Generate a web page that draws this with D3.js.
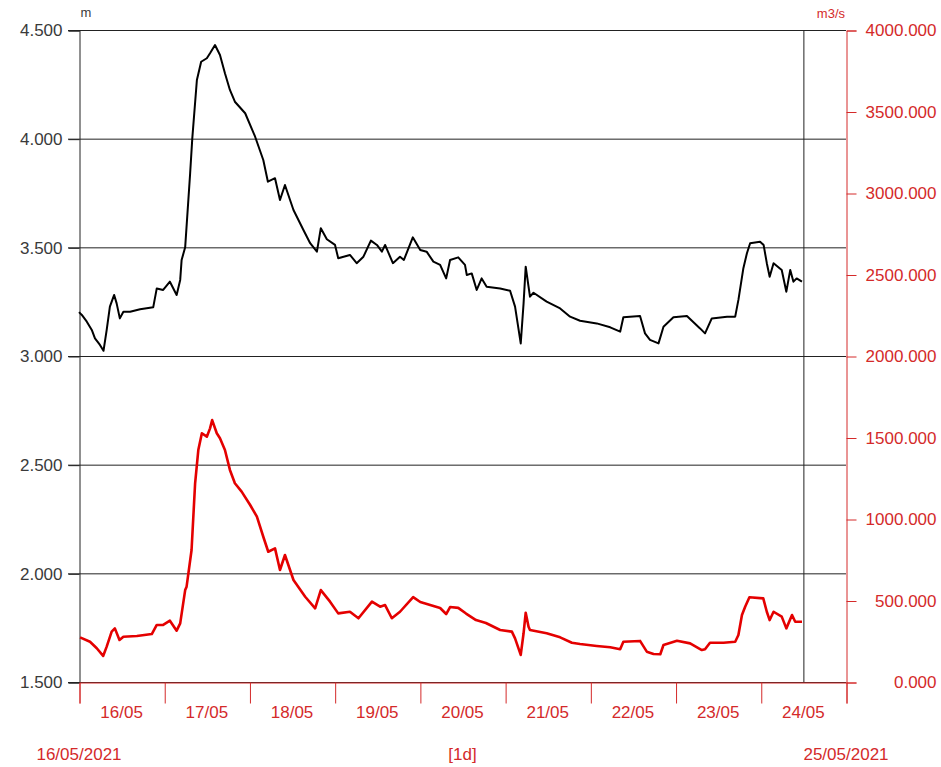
<!DOCTYPE html>
<html>
<head>
<meta charset="utf-8">
<script src="https://cdn.jsdelivr.net/npm/d3@7"></script>
<style>
  body { margin: 0; background: #fff; }
  text { font-family: "Liberation Sans", Arial, sans-serif; }
</style>
</head>
<body>
<script>
// water level (m) - hours after 16/05/2021 00:00
var levelHours = [0,0.8,2.2,3.6,4.5,5.9,6.9,7.8,8.7,9.9,10.6,11.5,12.5,14.4,17.2,20.9,21.9,23.7,25.6,27.5,
  28.5,28.9,29.9,31.3,31.9,33.2,34.4,36.0,36.9,38.3,39.7,41.1,42.5,43.9,46.8,49.6,51.9,53.2,55.2,56.6,
  58.0,60.4,63.2,65.1,67.0,68.1,69.8,72.1,73.0,76.3,78.2,80.1,82.2,83.9,85.3,86.2,88.4,90.4,91.5,94.0,
  96.1,97.9,99.8,101.7,103.4,104.5,106.8,108.7,109.2,110.6,112.0,113.4,114.8,118.6,121.4,122.8,124.4,125.2,125.8,126.6,
  127.0,128.0,131.7,135.5,138.3,141.1,145.8,149.6,152.4,153.3,158.0,159.4,160.8,163.2,164.6,167.4,171.2,174.9,176.3,178.2,
  182.5,184.8,185.7,187.1,188.1,189.0,191.8,192.8,193.7,194.5,195.6,197.9,199.2,200.3,201.2,202.1,203.6];
var levels = [3.202,3.189,3.158,3.120,3.081,3.051,3.024,3.120,3.227,3.281,3.242,3.173,3.204,3.204,3.215,3.224,3.311,3.304,3.342,3.281,
  3.350,3.442,3.500,3.841,4.000,4.270,4.354,4.370,4.393,4.431,4.385,4.301,4.224,4.170,4.117,4.009,3.902,3.802,3.818,3.718,
  3.787,3.672,3.580,3.519,3.480,3.588,3.537,3.511,3.450,3.465,3.427,3.457,3.531,3.511,3.480,3.511,3.427,3.457,3.442,3.546,
  3.488,3.480,3.434,3.419,3.357,3.442,3.454,3.419,3.373,3.380,3.304,3.357,3.319,3.311,3.300,3.227,3.058,3.242,3.411,3.319,
  3.273,3.291,3.250,3.219,3.181,3.162,3.150,3.132,3.112,3.178,3.184,3.104,3.074,3.058,3.135,3.178,3.184,3.127,3.104,3.173,
  3.181,3.181,3.258,3.404,3.473,3.519,3.526,3.511,3.427,3.365,3.427,3.396,3.296,3.396,3.342,3.357,3.342];

// discharge (m3/s)
var flowHours = [0.3,3.1,5.0,6.8,7.8,9.2,10.1,11.4,12.5,16.3,20.5,21.9,23.7,25.6,27.5,28.5,29.9,30.3,31.7,32.7,
  33.6,34.6,36.0,36.9,37.5,38.8,39.7,41.1,42.5,43.9,45.8,48.2,50.1,51.9,53.3,55.2,56.6,58.0,60.4,63.7,
  66.5,68.1,70.7,73.0,76.3,78.7,82.5,84.8,86.2,88.1,90.4,94.1,96.1,101.7,103.4,104.5,106.8,109.0,111.8,114.6,
  118.6,121.9,122.8,124.4,125.2,125.8,126.6,127.0,131.7,135.5,138.8,141.1,145.8,149.6,152.4,153.3,158.0,159.9,161.8,163.7,
  164.6,168.4,172.1,175.4,176.3,177.7,181.5,184.8,185.7,186.7,187.6,188.8,192.7,193.7,194.5,195.6,197.9,199.2,200.8,201.7,203.6];
var flows = [274,247,207,160,217,309,329,258,278,282,294,350,350,376,315,360,564,585,810,1219,
  1423,1526,1505,1556,1607,1526,1495,1423,1301,1219,1168,1086,1014,891,799,820,687,779,626,523,
  452,564,493,421,431,391,493,462,472,391,431,521,491,454,417,460,455,420,380,362,
  319,309,268,166,299,425,339,319,299,274,241,233,221,213,201,247,252,186,172,170,
  227,253,237,196,201,241,241,247,288,411,462,520,513,431,380,431,401,329,411,370,370];

var leftTicks = [1.5, 2.0, 2.5, 3.0, 3.5, 4.0, 4.5];
var rightTicks = [0, 500, 1000, 1500, 2000, 2500, 3000, 3500, 4000];
var dayLabels = ["16/05","17/05","18/05","19/05","20/05","21/05","22/05","23/05","24/05"];
var dataEndHour = 204;

var RED = "#d42a2a";
var start = new Date(2021, 4, 16);
var end = new Date(2021, 4, 25);
function toDate(h) { return d3.timeMinute.offset(start, Math.round(h * 60)); }

var svg = d3.select("body").append("svg")
    .attr("width", 941)
    .attr("height", 767);

var x = d3.scaleTime().domain([start, end]).range([79, 846]);
var yL = d3.scaleLinear().domain([1.5, 4.5]).range([682, 30]);
var yR = d3.scaleLinear().domain([0, 4000]).range([682, 30]);

//horizontal grid lines
svg.append("g").selectAll("line")
    .data(leftTicks)
    .enter().append("line")
    .attr("x1", 68).attr("x2", 846)
    .attr("y1", function (d) { return yL(d) + 0.5; })
    .attr("y2", function (d) { return yL(d) + 0.5; })
    .style("stroke", "#222").style("stroke-width", 1);

//left axis
var leftAxis = svg.append("g")
    .attr("transform", "translate(79.5,0.5)")
    .call(d3.axisLeft(yL).tickValues(leftTicks).tickSize(11).tickPadding(6).tickFormat(d3.format(".3f")));
leftAxis.select(".domain").attr("stroke", "#222");
leftAxis.selectAll(".tick line").attr("stroke", "#222");
leftAxis.selectAll("text").attr("fill", "#3a3a3a").style("font-size", "17px").attr("font-family", null);

//right axis
var rightAxis = svg.append("g")
    .attr("transform", "translate(846.5,0.5)")
    .call(d3.axisRight(yR).tickValues(rightTicks).tickSize(10).tickFormat(d3.format(".3f")));
rightAxis.select(".domain").attr("stroke", RED);
rightAxis.selectAll(".tick line").attr("stroke", RED);
rightAxis.selectAll("text").attr("fill", RED).style("font-size", "17px").attr("font-family", null)
    .attr("text-anchor", "end").attr("x", 90);

//bottom axis with day ticks
var bottomAxis = svg.append("g")
    .attr("transform", "translate(0.5,682.5)")
    .call(d3.axisBottom(x).ticks(d3.timeDay.every(1)).tickSize(21).tickFormat(""));
bottomAxis.select(".domain").attr("stroke", RED);
bottomAxis.selectAll(".tick line").attr("stroke", RED);

svg.append("g").selectAll("text")
    .data(dayLabels)
    .enter().append("text")
    .attr("x", function (d, i) { return x(d3.timeHour.offset(start, i * 24 + 12)); })
    .attr("y", 718)
    .attr("text-anchor", "middle")
    .style("font-size", "17px")
    .style("fill", RED)
    .text(function (d) { return d; });

//end-of-data marker
svg.append("line")
    .attr("x1", x(toDate(dataEndHour)) + 0.5).attr("x2", x(toDate(dataEndHour)) + 0.5)
    .attr("y1", 30).attr("y2", 682)
    .style("stroke", "#222").style("stroke-width", 1);

//series
var levelLine = d3.line()
    .x(function (d, i) { return x(toDate(levelHours[i])); })
    .y(function (d) { return yL(d); });
var flowLine = d3.line()
    .x(function (d, i) { return x(toDate(flowHours[i])); })
    .y(function (d) { return yR(d); });

svg.append("path")
    .attr("d", flowLine(flows))
    .style("fill", "none").style("stroke", "#e40000").style("stroke-width", 2.6)
    .style("stroke-linejoin", "round");
svg.append("path")
    .attr("d", levelLine(levels))
    .style("fill", "none").style("stroke", "#000").style("stroke-width", 2)
    .style("stroke-linejoin", "round");

//units and footer
svg.append("text").attr("x", 86).attr("y", 17).attr("text-anchor", "middle")
    .style("font-size", "13px").style("fill", "#3a3a3a").text("m");
svg.append("text").attr("x", 845).attr("y", 18).attr("text-anchor", "end")
    .style("font-size", "13px").style("fill", RED).text("m3/s");

svg.append("text").attr("x", x(start)).attr("y", 760).attr("text-anchor", "middle")
    .style("font-size", "17px").style("fill", RED).text("16/05/2021");
svg.append("text").attr("x", (x(start) + x(end)) / 2).attr("y", 760).attr("text-anchor", "middle")
    .style("font-size", "17px").style("fill", RED).text("[1d]");
svg.append("text").attr("x", x(end)).attr("y", 760).attr("text-anchor", "middle")
    .style("font-size", "17px").style("fill", RED).text("25/05/2021");
</script>
</body>
</html>
